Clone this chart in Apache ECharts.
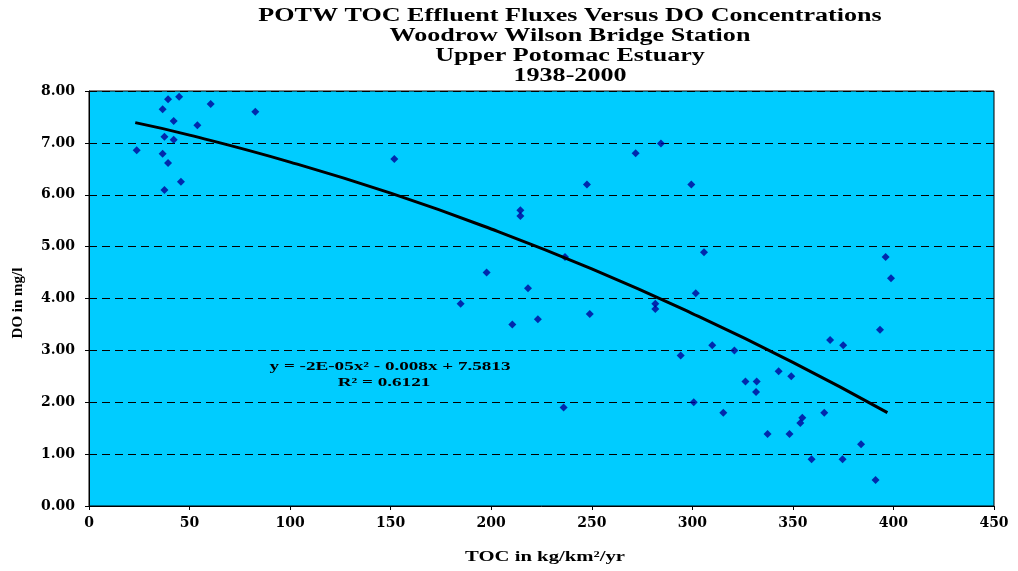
<!DOCTYPE html>
<html>
<head>
<meta charset="utf-8">
<script src="https://cdn.jsdelivr.net/npm/echarts@6/dist/echarts.min.js"></script>
<style>html,body{margin:0;padding:0;background:#fff}#c{width:1018px;height:571px}</style>
</head>
<body>
<div id="c"></div>
<script>
// Observed points: TOC (kg/km2/yr) and DO (mg/l)
const tocValues = [23.7, 36.6, 39.3, 44.8, 37.5, 42.1, 53.9, 60.5, 82.7, 36.6, 39.3, 42.1, 37.5, 45.7,
  151.8, 184.8, 197.7, 210.5, 214.5, 214.5, 218.3, 223.2, 236.7, 236.0, 247.6, 249.0, 271.8, 284.4,
  281.6, 281.6, 299.5, 301.7, 305.8, 294.2, 300.7, 309.9, 320.9, 315.4, 342.9, 349.2, 326.4, 332.0,
  331.7, 337.4, 348.3, 354.7, 353.7, 365.6, 368.5, 375.0, 359.3, 374.7, 383.9, 391.1, 393.3, 396.1, 398.8];
const doValues = [6.86, 7.65, 7.84, 7.89, 7.12, 7.42, 7.34, 7.75, 7.60, 6.79, 6.61, 7.06, 6.09, 6.25,
  6.69, 3.90, 4.50, 3.50, 5.70, 5.59, 4.20, 3.60, 4.80, 1.90, 6.20, 3.70, 6.80, 6.99,
  3.90, 3.80, 6.20, 4.10, 4.89, 2.90, 2.00, 3.10, 3.00, 1.80, 2.60, 2.50, 2.40, 2.40,
  2.20, 1.39, 1.39, 1.70, 1.60, 1.80, 3.20, 3.10, 0.90, 0.90, 1.19, 0.50, 3.40, 4.80, 4.39];
// Trendline
const trendX = [23, 50, 100, 150, 200, 250, 300, 350, 397];
const trendY = [7.39, 7.15, 6.63, 6.03, 5.34, 4.57, 3.71, 2.77, 1.80];

const titleLines = ['POTW TOC Effluent Fluxes Versus DO Concentrations', 'Woodrow Wilson Bridge Station', 'Upper Potomac Estuary', '1938-2000'];
const equationText = 'y = -2E-05x² - 0.008x + 7.5813';
const r2Text = 'R² = 0.6121';
const xName = 'TOC in kg/km²/yr';
const yName = 'DO in mg/l';

const FONT = '"Liberation Serif", "Times New Roman", serif';
const TICKFONT = '"DejaVu Serif", serif';
const pts = tocValues.map((x, i) => [x, doValues[i]]);
const trend = trendX.map((x, i) => [x, trendY[i]]);

const chart = echarts.init(document.getElementById('c'));
const graphics = [];
titleLines.forEach((t, i) => {
  graphics.push({type: 'text', x: 570, y: 16 + i * 20, scaleX: 1.45,
    style: {text: t, font: 'bold 18px ' + FONT, fill: '#000', textAlign: 'center', textVerticalAlign: 'middle'}});
});
graphics.push({type: 'text', x: 545, y: 557, scaleX: 1.38,
  style: {text: xName, font: 'bold 15px ' + FONT, fill: '#000', textAlign: 'center', textVerticalAlign: 'middle'}});
graphics.push({type: 'text', x: 18, y: 303, rotation: Math.PI / 2,
  style: {text: yName, font: 'bold 15px ' + FONT, fill: '#000', textAlign: 'center', textVerticalAlign: 'middle'}});
graphics.push({type: 'text', x: 390, y: 367, scaleX: 1.47, z: 100,
  style: {text: equationText, font: 'bold 13px ' + FONT, fill: '#000', textAlign: 'center', textVerticalAlign: 'middle'}});
graphics.push({type: 'text', x: 384, y: 383, scaleX: 1.47, z: 100,
  style: {text: r2Text, font: 'bold 13px ' + FONT, fill: '#000', textAlign: 'center', textVerticalAlign: 'middle'}});

chart.setOption({
  animation: false,
  backgroundColor: '#ffffff',
  grid: {left: 89, right: 24, top: 91, bottom: 65, show: true, backgroundColor: '#00CCFF', borderColor: '#000', borderWidth: 1},
  xAxis: {
    type: 'value', min: 0, max: 450, interval: 50,
    axisLine: {show: true, lineStyle: {color: '#000', width: 1}},
    axisTick: {show: true, length: 4, lineStyle: {color: '#000'}},
    axisLabel: {color: '#000', fontFamily: TICKFONT, fontWeight: 'bold', fontSize: 14, margin: 10},
    splitLine: {show: false}
  },
  yAxis: {
    type: 'value', min: 0, max: 8, interval: 1,
    axisLine: {show: true, lineStyle: {color: '#000', width: 1}},
    axisTick: {show: true, length: 4, lineStyle: {color: '#000'}},
    axisLabel: {color: '#000', fontFamily: TICKFONT, fontWeight: 'bold', fontSize: 14, margin: 14,
      formatter: v => v.toFixed(2)},
    splitLine: {show: true, lineStyle: {color: '#000', type: [8, 5], width: 1}}
  },
  graphic: graphics,
  series: [
    {type: 'scatter', data: pts, symbol: 'diamond', symbolSize: 8,
     itemStyle: {color: '#000099'}, z: 3},
    {type: 'line', data: trend, smooth: true, showSymbol: false, symbol: 'none',
     lineStyle: {color: '#000', width: 3}, z: 4}
  ]
});
</script>
</body>
</html>
